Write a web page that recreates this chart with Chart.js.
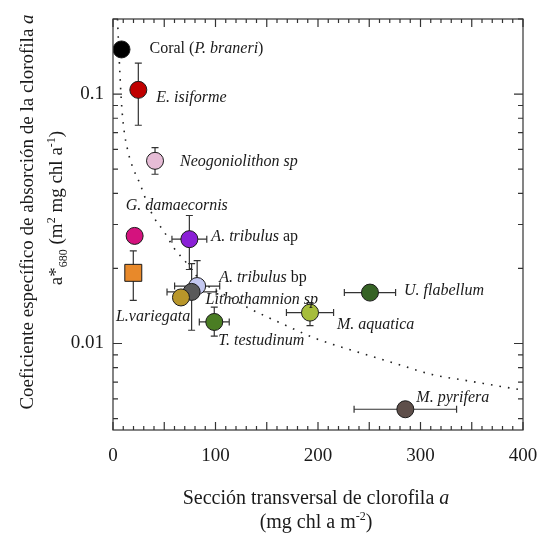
<!DOCTYPE html>
<html>
<head>
<meta charset="utf-8">
<script src="https://cdn.jsdelivr.net/npm/chart.js@4.4.1/dist/chart.umd.min.js"></script>
<style>
  html, body { margin: 0; padding: 0; background: #fff; }
  canvas { display: block; }
</style>
</head>
<body>
<canvas id="grafica" width="539" height="534"></canvas>
<script>
// Especies (lo que va entre * se escribe en cursiva)
const especies = ['Coral (*P. braneri*)', '*E. isiforme*', '*Neogoniolithon sp*', '*G. damaecornis*',
  '*A. tribulus* ap', '', '*A. tribulus* bp', '*Lithothamnion sp*', '*L.variegata*',
  '*T. testudinum*', '*U. flabellum*', '*M. aquatica*', '*M. pyrifera*'];
// Sección transversal (mg chl a m-2)
const seccion = [8.3, 24.7, 41, 21.1, 74.5, 19.8, 82.1, 76.7, 66.3, 98.8, 250.7, 192.2, 285.2];
// a*680 (m2 mg chl a-1)
const aEspec = [0.151, 0.104, 0.054, 0.027, 0.0262, 0.0192, 0.0170, 0.0161, 0.0153, 0.0122, 0.0160, 0.0133, 0.00545];
const errSeccion = [0, 0, 0, 0, 17, 0, 22, 24, 0, 14.6, 25, 23, 50];
const errAMas = [0, 0.029, 0.007, 0, 0.0064, 0.0043, 0.0045, 0.0048, 0, 0.0018, 0, 0.0013, 0.0002];
const errAMenos = [0, 0.029, 0.0063, 0, 0.0064, 0.0043, 0, 0.0048, 0, 0.0015, 0, 0.0015, 0.0002];
const colores = ['#000000', '#c00000', '#e6bcd6', '#d4127e', '#8a1fd6', '#e8892a', '#c4c8f0',
  '#5a5a5a', '#b8962a', '#4a7d23', '#366325', '#a6bd3b', '#5e4f4a'];

// Curva de ajuste (punteada)
const curvaX = [4.4, 6, 8, 10, 15, 20, 26, 34, 40, 50, 60, 72, 85, 100, 116, 132, 150, 165, 197, 222, 248, 280, 312, 345, 400];
const curvaA = [0.2, 0.14, 0.096, 0.076, 0.058, 0.05, 0.044, 0.036, 0.032, 0.028, 0.024, 0.021, 0.018, 0.0163,
  0.0152, 0.0139, 0.0128, 0.012, 0.0105, 0.0097, 0.009, 0.0082, 0.0075, 0.0071, 0.0065];

const ticksX = [0, 100, 200, 300, 400];
const ticksY = [0.01, 0.1];

// desplazamiento de cada etiqueta respecto a su punto (px)
const posEtiqueta = [[28, -2], [18, 7], [25, 0], [-9, -31], [22, -4], [0, 0], [22, -10], [14, 7],
  [-65, 18], [4, 18], [34, -3], [27, 11], [11, -13]];

const SERIF = '"Liberation Serif", "Times New Roman", serif';
const TINTA = '#1a1a1a';

function trozos(txt) {
  return txt.split('*').map((t, i) => ({ t, it: i % 2 === 1 }));
}

function textoRico(ctx, partes, x, y, size, align) {
  const fuente = p => `${p.it ? 'italic ' : ''}${(p.sup || p.sub) ? Math.round(size * 0.62) : size}px ${SERIF}`;
  let ancho = 0;
  partes.forEach(p => { ctx.font = fuente(p); ancho += ctx.measureText(p.t).width; });
  let cx = align === 'center' ? x - ancho / 2 : x;
  ctx.textAlign = 'left';
  ctx.textBaseline = 'alphabetic';
  ctx.fillStyle = TINTA;
  partes.forEach(p => {
    ctx.font = fuente(p);
    const dy = p.sup ? -size * 0.38 : p.sub ? size * 0.25 : 0;
    ctx.fillText(p.t, cx, y + dy);
    cx += ctx.measureText(p.t).width;
  });
}

// barras de error, debajo de los marcadores
const barrasError = {
  id: 'barrasError',
  beforeDatasetsDraw(chart) {
    const { ctx, scales: { x, y } } = chart;
    ctx.save();
    ctx.strokeStyle = '#333';
    ctx.lineWidth = 1.2;
    const cap = 3.5;
    seccion.forEach((sx, i) => {
      const px = x.getPixelForValue(sx), py = y.getPixelForValue(aEspec[i]);
      ctx.beginPath();
      if (errSeccion[i] > 0) {
        const x0 = x.getPixelForValue(sx - errSeccion[i]), x1 = x.getPixelForValue(sx + errSeccion[i]);
        ctx.moveTo(x0, py); ctx.lineTo(x1, py);
        ctx.moveTo(x0, py - cap); ctx.lineTo(x0, py + cap);
        ctx.moveTo(x1, py - cap); ctx.lineTo(x1, py + cap);
      }
      if (errAMas[i] > 0) {
        const y1 = y.getPixelForValue(aEspec[i] + errAMas[i]);
        ctx.moveTo(px, py); ctx.lineTo(px, y1);
        ctx.moveTo(px - cap, y1); ctx.lineTo(px + cap, y1);
      }
      if (errAMenos[i] > 0) {
        const y0 = y.getPixelForValue(aEspec[i] - errAMenos[i]);
        ctx.moveTo(px, py); ctx.lineTo(px, y0);
        ctx.moveTo(px - cap, y0); ctx.lineTo(px + cap, y0);
      }
      ctx.stroke();
    });
    ctx.restore();
  }
};

// etiquetas de especies, marco, marcas hacia dentro y títulos de ejes
const adornos = {
  id: 'adornos',
  afterDraw(chart) {
    const { ctx, chartArea: a, scales: { x, y } } = chart;
    ctx.save();
    especies.forEach((nom, i) => {
      if (!nom) return;
      const px = x.getPixelForValue(seccion[i]), py = y.getPixelForValue(aEspec[i]);
      textoRico(ctx, trozos(nom), px + posEtiqueta[i][0], py + posEtiqueta[i][1] + 5.5, 16, 'left');
    });

    ctx.strokeStyle = '#333';
    ctx.lineWidth = 1.2;
    ctx.strokeRect(a.left, a.top, a.right - a.left, a.bottom - a.top);
    ctx.beginPath();
    for (let v = x.min; v <= x.max; v += 10) {
      const px = x.getPixelForValue(v);
      const l = v % 50 === 0 ? 8 : 4;
      ctx.moveTo(px, a.bottom); ctx.lineTo(px, a.bottom - l);
      ctx.moveTo(px, a.top); ctx.lineTo(px, a.top + l);
    }
    for (let e = -3; e <= 0; e++) {
      for (let k = 1; k <= 9; k++) {
        const v = k * Math.pow(10, e);
        if (v < y.min || v > y.max) continue;
        const py = y.getPixelForValue(v);
        const l = k === 1 ? 9 : 5;
        ctx.moveTo(a.left, py); ctx.lineTo(a.left + l, py);
        ctx.moveTo(a.right, py); ctx.lineTo(a.right - l, py);
      }
    }
    ctx.stroke();

    const cxArea = (a.left + a.right) / 2 - 2;
    textoRico(ctx, [{ t: 'Sección transversal de clorofila ' }, { t: 'a', it: true }], cxArea, 504, 20, 'center');
    textoRico(ctx, [{ t: '(mg chl a m' }, { t: '-2', sup: true }, { t: ')' }], cxArea, 528, 20, 'center');

    ctx.translate(33, 212);
    ctx.rotate(-Math.PI / 2);
    textoRico(ctx, [{ t: 'Coeficiente específico de absorción de la clorofila ' }, { t: 'a', it: true }], 0, 0, 19, 'center');
    ctx.rotate(Math.PI / 2);
    ctx.translate(29, -4);
    ctx.rotate(-Math.PI / 2);
    textoRico(ctx, [{ t: 'a*' }, { t: '680', sub: true }, { t: ' (m' }, { t: '2', sup: true },
      { t: ' mg chl a' }, { t: '-1', sup: true }, { t: ')' }], 0, 0, 19, 'center');
    ctx.restore();
  }
};

const puntos = seccion.map((v, i) => ({ x: v, y: aEspec[i] }));
const curva = curvaX.map((v, i) => ({ x: v, y: curvaA[i] }));

const ctx = document.getElementById('grafica').getContext('2d');
new Chart(ctx, {
  type: 'scatter',
  data: {
    datasets: [{
      data: puntos,
      pointBackgroundColor: colores,
      pointBorderColor: '#1a1a1a',
      pointBorderWidth: 1,
      pointRadius: colores.map((c, i) => especies[i] === '' ? 12 : 8.5),
      pointStyle: especies.map(n => n === '' ? 'rect' : 'circle'),
      order: 1
    }, {
      type: 'line',
      data: curva,
      showLine: true,
      borderColor: '#222',
      borderWidth: 1.6,
      borderDash: [1.6, 7],
      pointRadius: 0,
      cubicInterpolationMode: 'monotone',
      order: 2
    }]
  },
  options: {
    responsive: false,
    animation: false,
    events: [],
    layout: { padding: { top: 19, right: 16, left: 0, bottom: 0 } },
    plugins: { legend: { display: false }, tooltip: { enabled: false } },
    scales: {
      x: {
        type: 'linear', min: 0, max: 400,
        afterBuildTicks: s => { s.ticks = ticksX.map(v => ({ value: v })); },
        afterFit: s => { s.height = 104; s.paddingLeft = 0; s.paddingRight = 0; },
        ticks: { font: { family: SERIF, size: 19 }, color: TINTA, padding: 15, maxRotation: 0 },
        grid: { display: false, drawTicks: false },
        border: { display: false }
      },
      y: {
        type: 'logarithmic', min: 0.0045, max: 0.2,
        afterBuildTicks: s => { s.ticks = ticksY.map(v => ({ value: v })); },
        afterFit: s => { s.width = 113; s.paddingTop = 0; s.paddingBottom = 0; },
        ticks: {
          font: { family: SERIF, size: 19 }, color: TINTA, padding: 9,
          callback: v => v.toFixed(-Math.round(Math.log10(v)))
        },
        grid: { display: false, drawTicks: false },
        border: { display: false }
      }
    }
  },
  plugins: [barrasError, adornos]
});
</script>
</body>
</html>
